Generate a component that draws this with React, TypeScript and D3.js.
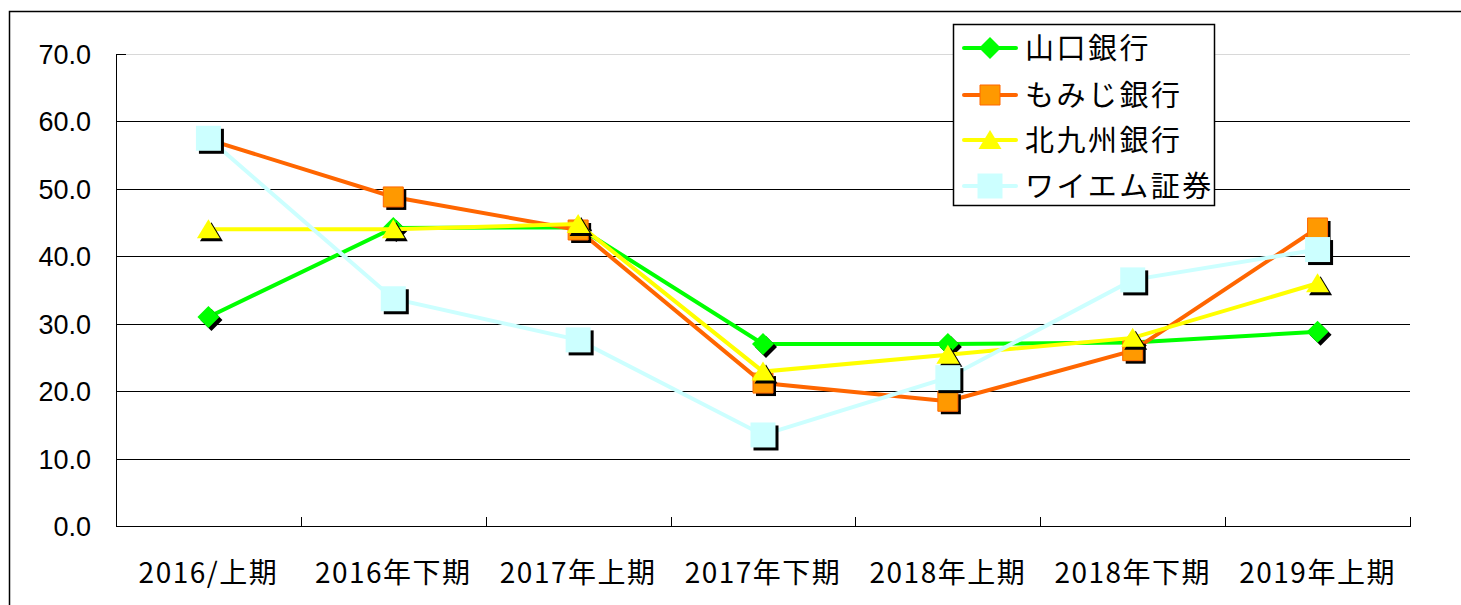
import React, { useEffect, useRef } from "react";
import * as d3 from "d3";

// DATA
const categories = [
  "2016/上期",
  "2016年下期",
  "2017年上期",
  "2017年下期",
  "2018年上期",
  "2018年下期",
  "2019年上期",
];
const yamaguchi = [31.0, 44.2, 44.3, 27.0, 27.0, 27.2, 28.8];
const momiji = [57.3, 48.8, 43.9, 21.2, 18.5, 26.0, 44.2];
const kitakyushu = [44.0, 44.0, 44.8, 22.9, 25.4, 27.9, 36.0];
const ym = [57.5, 33.7, 27.6, 13.5, 22.0, 36.5, 41.0];
const yTicks = [0, 10, 20, 30, 40, 50, 60, 70];

const series = [
  { name: "山口銀行", values: yamaguchi, line: "#00FF00", fill: "#00FF00", stroke: "none", marker: "diamond" },
  { name: "もみじ銀行", values: momiji, line: "#FF6600", fill: "#FF9900", stroke: "#FF6600", marker: "square" },
  { name: "北九州銀行", values: kitakyushu, line: "#FFFF00", fill: "#FFFF00", stroke: "none", marker: "triangle" },
  { name: "ワイエム証券", values: ym, line: "#CCFFFF", fill: "#CCFFFF", stroke: "none", marker: "bigsquare" },
];

const markerPath = (type) => {
  if (type === "diamond") return "M0,-11L11,0L0,11L-11,0Z";
  if (type === "square") return "M-10,-10H10V10H-10Z";
  if (type === "triangle") return "M0,-10L11.5,9L-11.5,9Z";
  return "M-12.5,-12.5H12.5V12.5H-12.5Z";
};

export default function App() {
  const ref = useRef(null);

  useEffect(() => {
    const svg = d3.select(ref.current);
    svg.selectAll("*").remove();

    const left = 116;
    const right = 1410;
    const top = 54;
    const bottom = 526;
    const numFont = "'Liberation Sans', Arial, sans-serif";
    const jpFont = "'Noto Sans CJK JP', sans-serif";

    // SCALES
    const xScale = d3.scaleBand().domain(categories).range([left, right]).padding(0);
    const xc = (c) => xScale(c) + xScale.bandwidth() / 2;
    const yScale = d3.scaleLinear().domain([0, 70]).range([bottom, top]);

    // OUTER FRAME
    svg.append("path")
      .attr("d", `M9.5,605V11.5H1461`)
      .attr("fill", "none")
      .attr("stroke", "#000")
      .attr("stroke-width", 1.5);

    // Y GRID
    svg.append("g")
      .selectAll("line")
      .data(yTicks.filter((t) => t > 0))
      .join("line")
      .attr("x1", left)
      .attr("x2", right)
      .attr("y1", (d) => Math.round(yScale(d)) + 0.5)
      .attr("y2", (d) => Math.round(yScale(d)) + 0.5)
      .attr("stroke", (d) => (d === 70 ? "#d8d8d8" : "#000"))
      .attr("stroke-width", 1);

    // AXES
    svg.append("line")
      .attr("x1", left + 0.5).attr("x2", left + 0.5)
      .attr("y1", top).attr("y2", bottom)
      .attr("stroke", "#000");
    svg.append("line")
      .attr("x1", left).attr("x2", left + 10)
      .attr("y1", top + 0.5).attr("y2", top + 0.5)
      .attr("stroke", "#000");
    svg.append("line")
      .attr("x1", left).attr("x2", right + 1)
      .attr("y1", bottom + 0.5).attr("y2", bottom + 0.5)
      .attr("stroke", "#000");
    const xTickPos = categories.map((c) => xScale(c) + xScale.bandwidth());
    svg.append("g")
      .selectAll("line")
      .data(xTickPos)
      .join("line")
      .attr("x1", (d) => Math.round(d) + 0.5)
      .attr("x2", (d) => Math.round(d) + 0.5)
      .attr("y1", bottom - 9)
      .attr("y2", bottom)
      .attr("stroke", "#000");

    // Y LABELS
    svg.append("g")
      .selectAll("text")
      .data(yTicks)
      .join("text")
      .attr("x", 91)
      .attr("y", (d) => yScale(d) + 10)
      .attr("text-anchor", "end")
      .attr("font-family", numFont)
      .attr("font-size", 27)
      .text((d) => d.toFixed(1));

    // X LABELS
    svg.append("g")
      .selectAll("text")
      .data(categories)
      .join("text")
      .attr("x", (d) => xc(d))
      .attr("y", 583)
      .attr("text-anchor", "middle")
      .attr("font-family", jpFont)
      .attr("font-size", 28)
      .attr("letter-spacing", 1.5)
      .text((d) => d);

    // LINES + MARKERS
    const line = d3.line()
      .x((d, i) => xc(categories[i]))
      .y((d) => yScale(d));

    series.forEach((s) => {
      const g = svg.append("g");
      g.append("path")
        .datum(s.values)
        .attr("fill", "none")
        .attr("stroke", s.line)
        .attr("stroke-width", 4)
        .attr("d", line);
      // shadow
      g.selectAll(".shadow")
        .data(s.values)
        .join("path")
        .attr("class", "shadow")
        .attr("transform", (d, i) => `translate(${xc(categories[i]) + 3},${yScale(d) + 3})`)
        .attr("d", markerPath(s.marker))
        .attr("fill", "#000");
      g.selectAll(".marker")
        .data(s.values)
        .join("path")
        .attr("class", "marker")
        .attr("transform", (d, i) => `translate(${xc(categories[i])},${yScale(d)})`)
        .attr("d", markerPath(s.marker))
        .attr("fill", s.fill)
        .attr("stroke", s.stroke)
        .attr("stroke-width", 1);
    });

    // LEGEND
    const legend = svg.append("g");
    legend.append("rect")
      .attr("x", 953.5).attr("y", 24.5)
      .attr("width", 261).attr("height", 181)
      .attr("fill", "#fff")
      .attr("stroke", "#000")
      .attr("stroke-width", 1.5);
    const rowY = [48, 95, 140, 186];
    series.forEach((s, i) => {
      const y = rowY[i];
      legend.append("line")
        .attr("x1", 964).attr("x2", 1016)
        .attr("y1", y).attr("y2", y)
        .attr("stroke", s.line)
        .attr("stroke-width", 4)
        .attr("stroke-linecap", "round");
      legend.append("path")
        .attr("transform", `translate(990,${y})`)
        .attr("d", markerPath(s.marker))
        .attr("fill", s.fill)
        .attr("stroke", s.stroke);
      legend.append("text")
        .attr("x", 1025)
        .attr("y", y + 11)
        .attr("font-family", jpFont)
        .attr("font-size", 29)
        .attr("letter-spacing", 2.5)
        .text(s.name);
    });
  }, []);

  return (
    <div style={{ position: "absolute", left: 0, top: 0 }}>
      <svg ref={ref} width={1461} height={605} style={{ display: "block", background: "#fff" }} />
    </div>
  );
}
